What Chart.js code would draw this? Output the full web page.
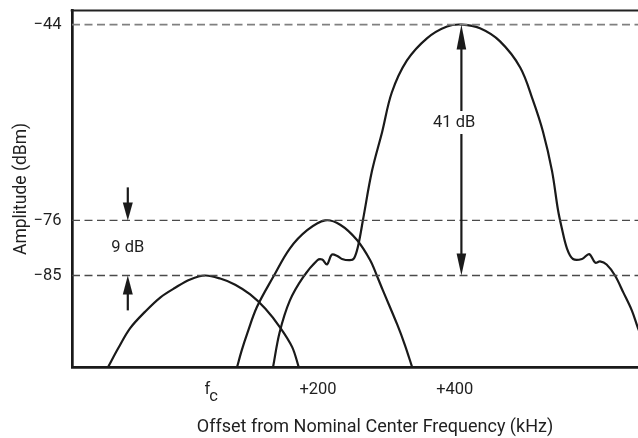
<!DOCTYPE html>
<html><head><meta charset="utf-8">
<script src="https://cdn.jsdelivr.net/npm/chart.js@4"></script>
<style>
html,body{margin:0;padding:0;background:#fff;overflow:hidden;width:638px;height:438px;}
#wrap{position:absolute;left:0;top:0;width:678px;height:438px;}
</style></head><body>
<div id="wrap"><canvas id="c" width="678" height="438"></canvas></div>
<script>
// Axis extents (kHz offset, dBm)
const xMin = -222, xMax = 788;
const yMin = -100, yMax = -41.7;
// Tick labels
const xTickValues = [10, 188, 416];
const xTickLabels = ['f_c', '+200', '+400'];
const refLevels = [-44, -76, -85];

// Channel at fc
const fcX = [-162, -145, -125, -100, -75, -50, -25, 0, 25, 50, 75, 100, 125, 145, 156];
const fcY = [-100, -96.9, -93.6, -90.9, -88.6, -87.0, -85.65, -85, -85.5, -86.5, -88.1, -90.4, -93.5, -96.7, -100];

// Adjacent channel (+200)
const adjX = [53, 61, 70, 86, 113, 141, 170, 200, 225, 253, 275, 286, 296, 320, 333, 345];
const adjY = [-100, -97.2, -94.5, -90.2, -85.3, -80.6, -77.6, -76, -76.7, -79.2, -82.5, -85, -87.4, -93.0, -96.4, -100];

// Alternate channel (+400)
const altX = [113, 124, 141, 163, 187, 195, 203, 211, 220, 228, 241, 248, 255, 263, 278, 295, 311, 336, 370, 403, 428, 458, 491, 525, 546, 563, 578, 588, 594, 603, 613, 628, 640, 650, 658, 669, 683, 697, 711, 721, 733, 745];
const altY = [-100, -94.3, -89.1, -85.3, -82.5, -82.4, -83.2, -81.6, -81.8, -82.3, -82.5, -82.2, -80.1, -75.9, -67.9, -61.5, -55.1, -49.9, -46.2, -44.3, -44, -44.6, -46.7, -51.0, -56.3, -61.5, -67.9, -74.3, -77.1, -80.6, -82.3, -82.3, -81.5, -82.9, -82.7, -83.2, -85, -87.8, -90.7, -93.5, -96.4, -100];

// Annotations
const bigArrowX = 427, bigArrowLevels = [-44, -85], bigLabel = '41 dB', bigLabelPos = [415, -60];
const smallArrowX = -129, smallTopArrow = [-70.6, -76], smallBottomArrow = [-90.7, -85], smallLabel = '9 dB', smallLabelY = -80.5;

const FONT = 'Roboto, "Liberation Sans", sans-serif';
const TEXT = '#1f1f1f';
const toPts = (xs, ys) => xs.map((x, i) => ({x, y: ys[i]}));

const datasets = [];
refLevels.forEach((lv, i) => {
  datasets.push({
    data: [{x: xMin, y: lv}, {x: xMax, y: lv}],
    borderColor: i === 0 ? '#808080' : '#4a4a4a',
    borderWidth: i === 0 ? 1.8 : 1.4,
    borderDash: [8, 4.5],
    pointRadius: 0, tension: 0
  });
});
[[fcX, fcY], [adjX, adjY], [altX, altY]].forEach(([xs, ys]) => {
  datasets.push({
    data: toPts(xs, ys),
    borderColor: '#1a1a1a', borderWidth: 2.2,
    pointRadius: 0, tension: 0.35
  });
});

function head(ctx, px, tipY, dir, len, halfW) {
  ctx.beginPath();
  ctx.moveTo(px, tipY);
  ctx.lineTo(px - halfW, tipY - dir * len);
  ctx.lineTo(px + halfW, tipY - dir * len);
  ctx.closePath();
  ctx.fill();
}

const annot = {
  id: 'annot',
  afterDraw(chart) {
    const {ctx, chartArea: a, scales: {x, y}} = chart;
    ctx.save();
    // top frame line
    ctx.strokeStyle = '#222'; ctx.lineWidth = 2.2;
    ctx.beginPath(); ctx.moveTo(a.left - 1.3, a.top); ctx.lineTo(a.right, a.top); ctx.stroke();

    ctx.fillStyle = '#1a1a1a'; ctx.strokeStyle = '#1a1a1a'; ctx.lineWidth = 2.2;
    // 41 dB double arrow
    const bx = x.getPixelForValue(bigArrowX);
    const bt = y.getPixelForValue(bigArrowLevels[0]);
    const bb = y.getPixelForValue(bigArrowLevels[1]);
    ctx.beginPath(); ctx.moveTo(bx, bt + 20); ctx.lineTo(bx, bb - 18); ctx.stroke();
    head(ctx, bx, bt, -1, 25, 4.8);
    head(ctx, bx, bb, 1, 22, 4.8);

    // 9 dB arrows
    const sx = x.getPixelForValue(smallArrowX);
    const t0 = y.getPixelForValue(smallTopArrow[0]), t1 = y.getPixelForValue(smallTopArrow[1]);
    ctx.beginPath(); ctx.moveTo(sx, t0); ctx.lineTo(sx, t1 - 14); ctx.stroke();
    head(ctx, sx, t1, 1, 18, 5);
    const b0 = y.getPixelForValue(smallBottomArrow[0]), b1 = y.getPixelForValue(smallBottomArrow[1]);
    ctx.beginPath(); ctx.moveTo(sx, b0); ctx.lineTo(sx, b1 + 14); ctx.stroke();
    head(ctx, sx, b1, -1, 19, 5);

    // labels
    ctx.font = '16.5px ' + FONT;
    ctx.textAlign = 'center'; ctx.textBaseline = 'middle';
    const lx = x.getPixelForValue(bigLabelPos[0]), ly = y.getPixelForValue(bigLabelPos[1]);
    const w = ctx.measureText(bigLabel).width;
    ctx.fillStyle = '#fff';
    ctx.fillRect(lx - w / 2 - 3, ly - 11.5, w + 6, 23);
    ctx.fillStyle = TEXT;
    ctx.fillText(bigLabel, lx, ly);
    ctx.fillText(smallLabel, sx, y.getPixelForValue(smallLabelY));

    // f_c tick label with subscript
    xTickLabels.forEach((lab, i) => {
      if (lab.indexOf('_') < 0) return;
      const [base, sub] = lab.split('_');
      const cx = x.getPixelForValue(xTickValues[i]);
      const cy = a.bottom + 13 + 9.9;
      const wb = ctx.measureText(base).width, ws = ctx.measureText(sub).width;
      const left = cx - (wb + ws - 1) / 2;
      ctx.textAlign = 'left';
      ctx.fillText(base, left, cy);
      ctx.fillText(sub, left + wb - 1, cy + 6.5);
    });
    ctx.restore();
  }
};

new Chart(document.getElementById('c'), {
  type: 'line',
  data: {datasets},
  plugins: [annot],
  options: {
    responsive: false, animation: false, devicePixelRatio: 1,
    layout: {padding: {top: 10.5, left: 0, right: 0, bottom: 0}},
    plugins: {legend: {display: false}, tooltip: {enabled: false}},
    elements: {point: {radius: 0}},
    scales: {
      x: {
        type: 'linear', min: xMin, max: xMax,
        grid: {display: false, drawTicks: false},
        border: {display: true, color: '#1a1a1a', width: 2.7},
        afterBuildTicks: s => { s.ticks = xTickValues.map(v => ({value: v})); },
        afterFit: s => { s.height = 70.7; s.paddingLeft = 0; s.paddingRight = 0; },
        ticks: {
          autoSkip: false, maxRotation: 0, minRotation: 0, padding: 13, color: TEXT,
          font: {family: FONT, size: 16.5},
          callback: v => { const l = xTickLabels[xTickValues.indexOf(v)]; return l && l.indexOf('_') < 0 ? l : ''; }
        },
        title: {display: true, text: 'Offset from Nominal Center Frequency (kHz)', color: TEXT,
                font: {family: FONT, size: 18}, padding: {top: 0, bottom: 0}}
      },
      y: {
        min: yMin, max: yMax,
        grid: {display: false, drawTicks: false},
        border: {display: true, color: '#1a1a1a', width: 2.7},
        afterBuildTicks: s => { s.ticks = refLevels.map(v => ({value: v})); },
        afterFit: s => { s.width = 72; s.paddingTop = 0; s.paddingBottom = 0; },
        ticks: {
          autoSkip: false, padding: 10.5, color: TEXT, font: {family: FONT, size: 16.5},
          callback: v => (v < 0 ? '\u2212' : '') + Math.abs(v)
        },
        title: {display: true, text: 'Amplitude (dBm)', color: TEXT,
                font: {family: FONT, size: 17.5}, padding: {top: 11, bottom: 0}}
      }
    }
  }
});
</script>
</body></html>
